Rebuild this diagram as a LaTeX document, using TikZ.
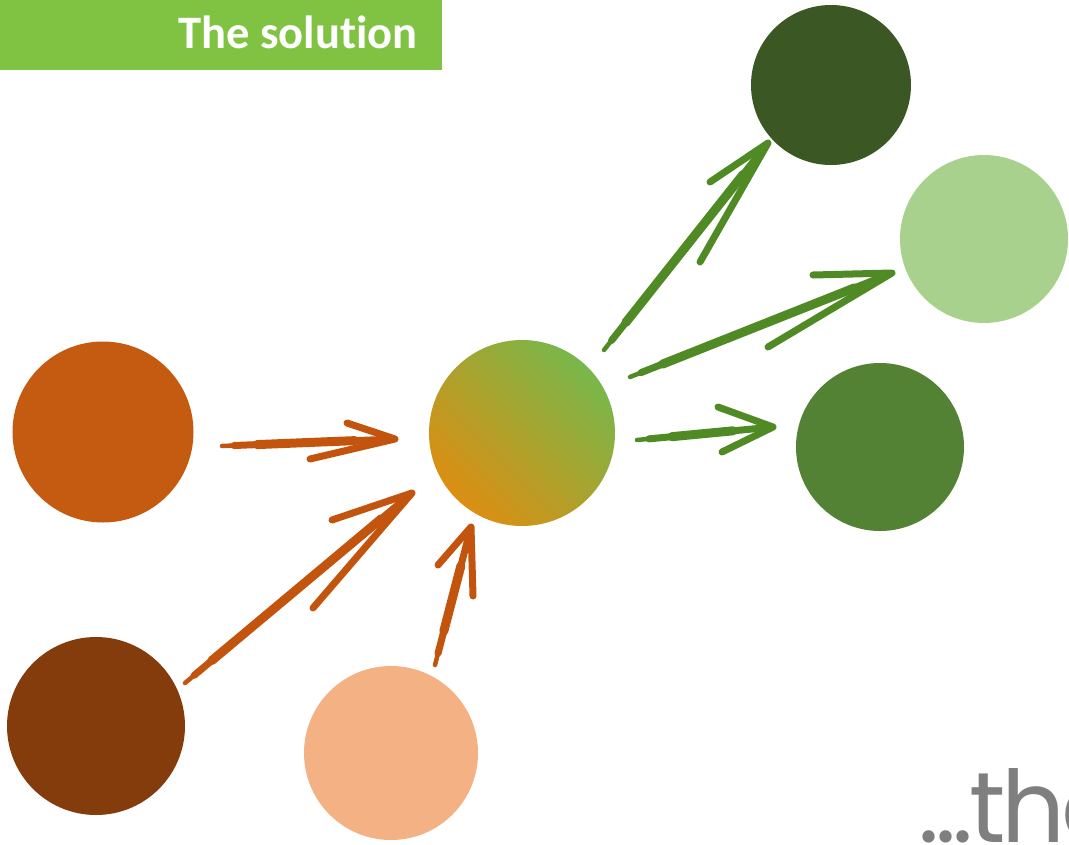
\documentclass[tikz,border=0pt]{standalone}
\usepackage{fontspec}
\newfontfamily\titlefont[Ligatures=NoCommon]{Carlito}
\newfontfamily\tagfont[LetterSpace=-4]{Poppins}
\usepackage{tikz}
\usetikzlibrary{positioning}

\definecolor{cTitle}{HTML}{80C342}
\definecolor{cOrange}{HTML}{C55A11}
\definecolor{cBrown}{HTML}{843C0C}
\definecolor{cPeach}{HTML}{F4B183}
\definecolor{cDark}{HTML}{3A5724}
\definecolor{cLight}{HTML}{A9D18E}
\definecolor{cMid}{HTML}{548235}
\definecolor{cMixA}{HTML}{DC8E12}
\definecolor{cMixB}{HTML}{78B74A}
\definecolor{cArrowO}{HTML}{C2540E}
\definecolor{cArrowG}{HTML}{4F8A24}
\definecolor{cGray}{HTML}{7F7F7F}

\tikzset{
  dot/.style={circle, inner sep=0pt, minimum size=#1},
  mixshade/.style={bottom color=cMixA, top color=cMixB, shading angle=-45},
  brush/.style={draw=#1, line width=4.5pt, line cap=round, line join=round,
    preaction={draw=#1, line width=7pt, line cap=round, shorten <=12pt, shorten >=14pt},
    preaction={draw=#1, line width=9pt, line cap=round, shorten <=35pt, shorten >=40pt}},
  barb/.style={draw=#1, line width=7pt, line cap=round, line join=round},
}

\begin{document}
\begin{tikzpicture}[x=1pt,y=-1pt]

    \useasboundingbox (0,0) rectangle (1069,844);
    \clip (0,0) rectangle (1069,844);

    % Title bar
    \node[fill=cTitle, inner sep=0pt, minimum width=442, minimum height=70, anchor=north west] (bar) at (0,0) {};
    \node[anchor=base east, text=white, font=\titlefont\bfseries\fontsize{46.5}{50}\selectfont] (title) at (421,48) {The solution};

    % Define nodes
    \node[dot=181, fill=cOrange]  (or) at (103,432) {};
    \node[dot=178, fill=cBrown]   (br) at (96,726)  {};
    \node[dot=174, fill=cPeach]   (pe) at (391,753) {};
    \node[dot=186, mixshade]      (mx) at (522,433) {};
    \node[dot=160, fill=cDark]    (dg) at (831,85)  {};
    \node[dot=168, fill=cLight]   (lg) at (984,239) {};
    \node[dot=168, fill=cMid]     (mg) at (880,447) {};

    % Arrow ends
    \coordinate (o1s) at (222,446); \coordinate (o1e) at (395,439);
    \coordinate (o1a) at (347,423); \coordinate (o1b) at (310,459);
    \coordinate (o2s) at (185,683); \coordinate (o2e) at (412,493);
    \coordinate (o2a) at (332,520); \coordinate (o2b) at (313,608);
    \coordinate (o3s) at (435,665); \coordinate (o3e) at (471,527);
    \coordinate (o3a) at (438,565); \coordinate (o3b) at (473,596);
    \coordinate (g1s) at (604,350); \coordinate (g1e) at (768,143);
    \coordinate (g1a) at (710,182); \coordinate (g1b) at (700,262);
    \coordinate (g2s) at (630,377); \coordinate (g2e) at (892,273);
    \coordinate (g2a) at (813,275); \coordinate (g2b) at (768,347);
    \coordinate (g3s) at (637,440); \coordinate (g3e) at (773,427);
    \coordinate (g3a) at (718,407); \coordinate (g3b) at (722,452);

    % Connect the nodes
    \draw[brush=cArrowO] (o1s) -- (o1e); \draw[barb=cArrowO] (o1a) -- (o1e) -- (o1b);
    \draw[brush=cArrowO] (o2s) -- (o2e); \draw[barb=cArrowO] (o2a) -- (o2e) -- (o2b);
    \draw[brush=cArrowO] (o3s) -- (o3e); \draw[barb=cArrowO] (o3a) -- (o3e) -- (o3b);
    \draw[brush=cArrowG] (g1s) -- (g1e); \draw[barb=cArrowG] (g1a) -- (g1e) -- (g1b);
    \draw[brush=cArrowG] (g2s) -- (g2e); \draw[barb=cArrowG] (g2a) -- (g2e) -- (g2b);
    \draw[brush=cArrowG] (g3s) -- (g3e); \draw[barb=cArrowG] (g3a) -- (g3e) -- (g3b);

    % Corner text
    \node[anchor=base west, inner sep=0pt, text=cGray, font=\tagfont\fontsize{100}{100}\selectfont] (tag) at (918,842) {...the};
  \end{tikzpicture}
\end{document}
